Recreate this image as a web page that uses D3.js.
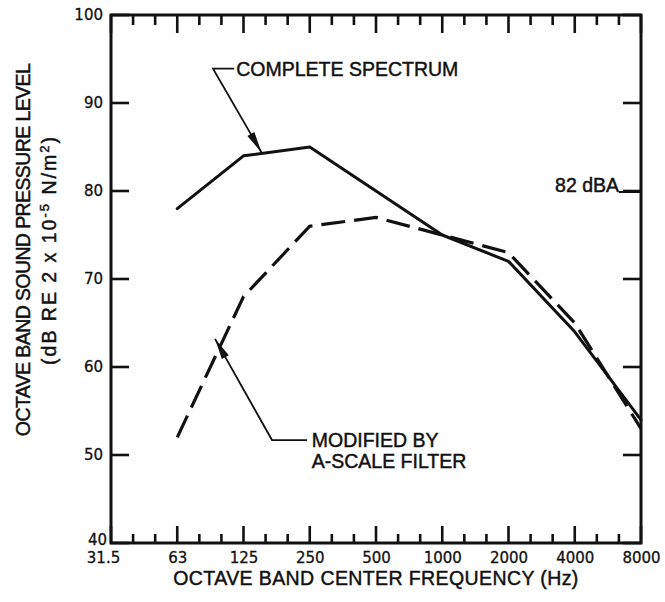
<!DOCTYPE html>
<html>
<head>
<meta charset="utf-8">
<script src="https://cdn.jsdelivr.net/npm/d3@7"></script>
<style>
  html, body { margin: 0; padding: 0; background: #fff; }
  svg { display: block; }
  .lbl { font-family: "Liberation Sans", Arial, sans-serif; font-size: 19.5px; fill: #111; stroke: #111; stroke-width: 0.45px; }
  .tick text { font-family: "DejaVu Sans", sans-serif; font-size: 15px; fill: #111; stroke: #111; stroke-width: 0.3px; }
</style>
</head>
<body>
<svg id="chart" width="665" height="602"></svg>
<script>
// Octave band centre frequencies (Hz) shown on the x axis
const bandLabels = ["31.5", "63", "125", "250", "500", "1000", "2000", "4000", "8000"];
// Bands at which the spectra are plotted
const dataBands = ["63", "125", "250", "500", "1000", "2000", "4000", "8000"];
// Octave band sound pressure level, dB re 2x10^-5 N/m^2
const completeSpectrum = [78, 84, 85, 80, 75, 72, 64, 54];
const aScaleFiltered   = [52, 68, 76, 77, 75, 73, 65, 53];
// Level axis ticks
const levelTicks = [40, 50, 60, 70, 80, 90, 100];
// Overall A-weighted level
const overallLevel = 82;
const overallTickLevel = 80;

const plotLeft = 111, plotRight = 641, plotTop = 15, plotBottom = 543;
const ink = "#111";

const svg = d3.select("#chart");

const x = d3.scalePoint().domain(bandLabels).range([plotLeft, plotRight]);
// octave index scale, used for the one-third-octave minor ticks and annotations
const xOct = d3.scaleLinear().domain([0, bandLabels.length - 1]).range([plotLeft, plotRight]);
const y = d3.scaleLinear().domain([40, 100]).range([plotBottom, plotTop]);

const thirdOctaves = d3.range(1, 24).filter(i => i % 3 !== 0).map(i => i / 3);

// frame
svg.append("path")
  .attr("d", `M${plotLeft},${plotTop}H${plotRight}V${plotBottom}H${plotLeft}Z`)
  .attr("fill", "none")
  .attr("stroke", ink)
  .attr("stroke-width", 3);

// tick labels from d3 axes
const gBottom = svg.append("g")
  .attr("transform", `translate(0,${plotBottom})`)
  .call(d3.axisBottom(x).tickSize(0).tickPadding(9));
gBottom.select(".domain").remove();
gBottom.selectAll(".tick text").filter(d => d === "31.5").attr("dx", -8);

const gLeft = svg.append("g")
  .attr("transform", `translate(${plotLeft},0)`)
  .call(d3.axisLeft(y).tickValues(levelTicks).tickSize(0).tickPadding(8));
gLeft.select(".domain").remove();
gLeft.selectAll(".tick text").filter(d => d === 40).attr("dy", "0.1em").attr("x", -4);

// spectra
const line = d3.line()
  .x((d, i) => x(dataBands[i]))
  .y(d => y(d));

svg.append("path")
  .datum(completeSpectrum)
  .attr("d", line)
  .attr("fill", "none")
  .attr("stroke", ink)
  .attr("stroke-width", 3)
  .attr("stroke-linejoin", "round")
  .attr("stroke-linecap", "round");

svg.append("path")
  .datum(aScaleFiltered)
  .attr("d", line)
  .attr("fill", "none")
  .attr("stroke", ink)
  .attr("stroke-width", 3.2)
  .attr("stroke-dasharray", "24,9")
  .attr("stroke-linecap", "butt");

// inward tick marks on all four sides
function vTicks(cls, values, pos, y0, len) {
  svg.selectAll(`line.${cls}`).data(values).join("line")
    .attr("class", cls)
    .attr("x1", d => pos(d)).attr("x2", d => pos(d))
    .attr("y1", y0).attr("y2", y0 + len)
    .attr("stroke", ink)
    .attr("stroke-width", 2.6);
}
function hTicks(cls, values, x0, len) {
  svg.selectAll(`line.${cls}`).data(values).join("line")
    .attr("class", cls)
    .attr("x1", x0).attr("x2", x0 + len)
    .attr("y1", d => y(d)).attr("y2", d => y(d))
    .attr("stroke", ink)
    .attr("stroke-width", 2.6);
}
vTicks("bmaj", bandLabels, x, plotBottom, -17);
vTicks("bmin", thirdOctaves, xOct, plotBottom, -9);
vTicks("tmaj", bandLabels, x, plotTop, 18);
vTicks("tmin", thirdOctaves, xOct, plotTop, 10);
hTicks("lmaj", levelTicks, plotLeft, 18);
hTicks("rmaj", levelTicks, plotRight, -18);

// leader with arrowhead: points given as [octave index, dB]
function leader(points, headLen = 21, headHalf = 4) {
  const pts = points.map(p => [xOct(p[0]), y(p[1])]);
  svg.append("path")
    .attr("d", d3.line()(pts))
    .attr("fill", "none").attr("stroke", ink).attr("stroke-width", 1.8);
  const tip = pts[pts.length - 1], prev = pts[pts.length - 2];
  const dx = tip[0] - prev[0], dy = tip[1] - prev[1];
  const len = Math.hypot(dx, dy), ux = dx / len, uy = dy / len;
  const bx = tip[0] - ux * headLen, by = tip[1] - uy * headLen;
  svg.append("polygon")
    .attr("points", [
      tip,
      [bx - uy * headHalf, by + ux * headHalf],
      [bx + uy * headHalf, by - ux * headHalf]
    ].map(p => p.join(",")).join(" "))
    .attr("fill", ink);
}

// "COMPLETE SPECTRUM" callout
leader([[1.86, 93.9], [1.54, 93.9], [2.27, 84.4]]);
svg.append("text").attr("class", "lbl")
  .attr("x", xOct(1.89)).attr("y", y(93.05))
  .text("COMPLETE SPECTRUM");

// "MODIFIED BY A-SCALE FILTER" callout
leader([[2.96, 51.7], [2.43, 51.7], [1.57, 63.2]]);
svg.append("text").attr("class", "lbl")
  .attr("x", xOct(3.03)).attr("y", y(50.9))
  .text("MODIFIED BY");
svg.append("text").attr("class", "lbl")
  .attr("x", xOct(3.03)).attr("y", y(48.5))
  .text("A-SCALE FILTER");

// overall level note next to the 80 dB tick
svg.append("text").attr("class", "lbl")
  .attr("x", plotRight - 22).attr("y", y(overallTickLevel) + 1)
  .attr("text-anchor", "end")
  .text(`${overallLevel} dBA`);
svg.append("line")
  .attr("x1", plotRight - 22).attr("x2", plotRight)
  .attr("y1", y(overallTickLevel) + 1).attr("y2", y(overallTickLevel) + 1)
  .attr("stroke", ink).attr("stroke-width", 2);

// axis titles
svg.append("text").attr("class", "lbl")
  .attr("x", 376).attr("y", 585)
  .attr("text-anchor", "middle")
  .attr("letter-spacing", "0.4px")
  .text("OCTAVE BAND CENTER FREQUENCY (Hz)");

const yTitle = svg.append("g").attr("transform", "translate(30,250) rotate(-90)");
yTitle.append("text").attr("class", "lbl")
  .attr("text-anchor", "middle")
  .attr("letter-spacing", "-0.6px")
  .text("OCTAVE BAND SOUND PRESSURE LEVEL");
const t2 = yTitle.append("text").attr("class", "lbl")
  .attr("y", 26)
  .attr("text-anchor", "middle")
  .attr("letter-spacing", "2px");
t2.append("tspan").text("(dB RE 2 x 10");
t2.append("tspan").attr("dy", -7).attr("font-size", "13px").text("-5");
t2.append("tspan").attr("dy", 7).text(" N/m");
t2.append("tspan").attr("dy", -7).attr("font-size", "13px").text("2");
t2.append("tspan").attr("dy", 7).text(")");
</script>
</body>
</html>
